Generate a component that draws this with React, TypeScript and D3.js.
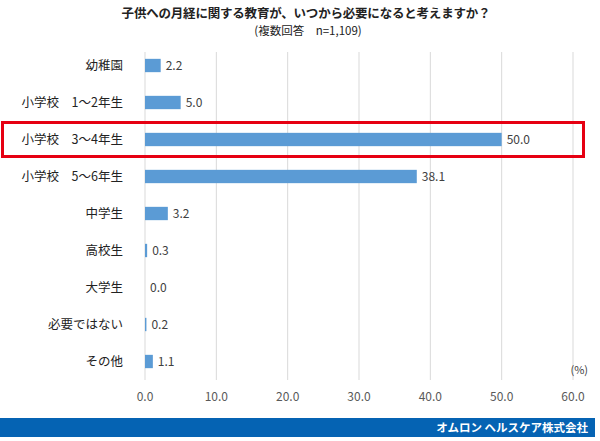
import React from "react";
import * as d3 from "d3";

const categories = ["幼稚園", "小学校　1～2年生", "小学校　3～4年生", "小学校　5～6年生", "中学生", "高校生", "大学生", "必要ではない", "その他"];
const values = [2.2, 5.0, 50.0, 38.1, 3.2, 0.3, 0.0, 0.2, 1.1];
const ticks = [0, 10, 20, 30, 40, 50, 60];
const highlight = "小学校　3～4年生";
const title = "子供への月経に関する教育が、いつから必要になると考えますか？";
const subtitle = "(複数回答　n=1,109)";
const unit = "(%)";
const footer = "オムロン ヘルスケア株式会社";

const W = 600, H = 441;
const font = "'Noto Sans CJK JP', 'Noto Sans', sans-serif";

export default function App() {
  const x = d3.scaleLinear().domain([0, 60]).range([145, 573]);
  const y = d3.scaleBand<string>().domain(categories).range([47, 380]).paddingInner(0.64).paddingOuter(0.32);
  return (
    <svg width={W} height={H} style={{ position: "absolute", left: 0, top: 0 }} fontFamily={font}>
      <rect width={W} height={H} fill="#fff" />
      <text x={306} y={18} textAnchor="middle" fontSize={12.5} fontWeight="bold" fill="#222" letterSpacing={-0.2}>{title}</text>
      <text x={308} y={35} textAnchor="middle" fontSize={11.5} fill="#222">{subtitle}</text>
      {ticks.map((t) => (
        <g key={t}>
          <line x1={x(t)} x2={x(t)} y1={52} y2={380} stroke="#d9d9d9" strokeWidth={1} />
          <text x={x(t)} y={401} textAnchor="middle" fontSize={12} fill="#595959">{t.toFixed(1)}</text>
        </g>
      ))}
      {categories.map((c, i) => {
        const yc = (y(c) as number) + y.bandwidth() / 2;
        return (
          <g key={c}>
            <rect x={x(0)} y={y(c) as number} width={Math.max(0, x(values[i]) - x(0))} height={y.bandwidth()} fill="#5b9bd5" />
            <text x={x(values[i]) + 5} y={yc + 4} fontSize={12} fill="#404040">{values[i].toFixed(1)}</text>
            <text x={123} y={yc + 4.5} textAnchor="end" fontSize={12.5} fill="#222">{c}</text>
          </g>
        );
      })}
      {(() => {
        const yc = (y(highlight) as number) + y.bandwidth() / 2;
        return <rect x={2.5} y={yc - 17} width={581} height={34} fill="none" stroke="#e60012" strokeWidth={3} />;
      })()}
      <text x={588} y={374} textAnchor="end" fontSize={11} fill="#404040">{unit}</text>
      <rect x={0} y={418} width={595} height={19} fill="#0563b3" />
      <text x={588} y={432} textAnchor="end" fontSize={11.5} fontWeight="bold" fill="#fff">{footer}</text>
    </svg>
  );
}
